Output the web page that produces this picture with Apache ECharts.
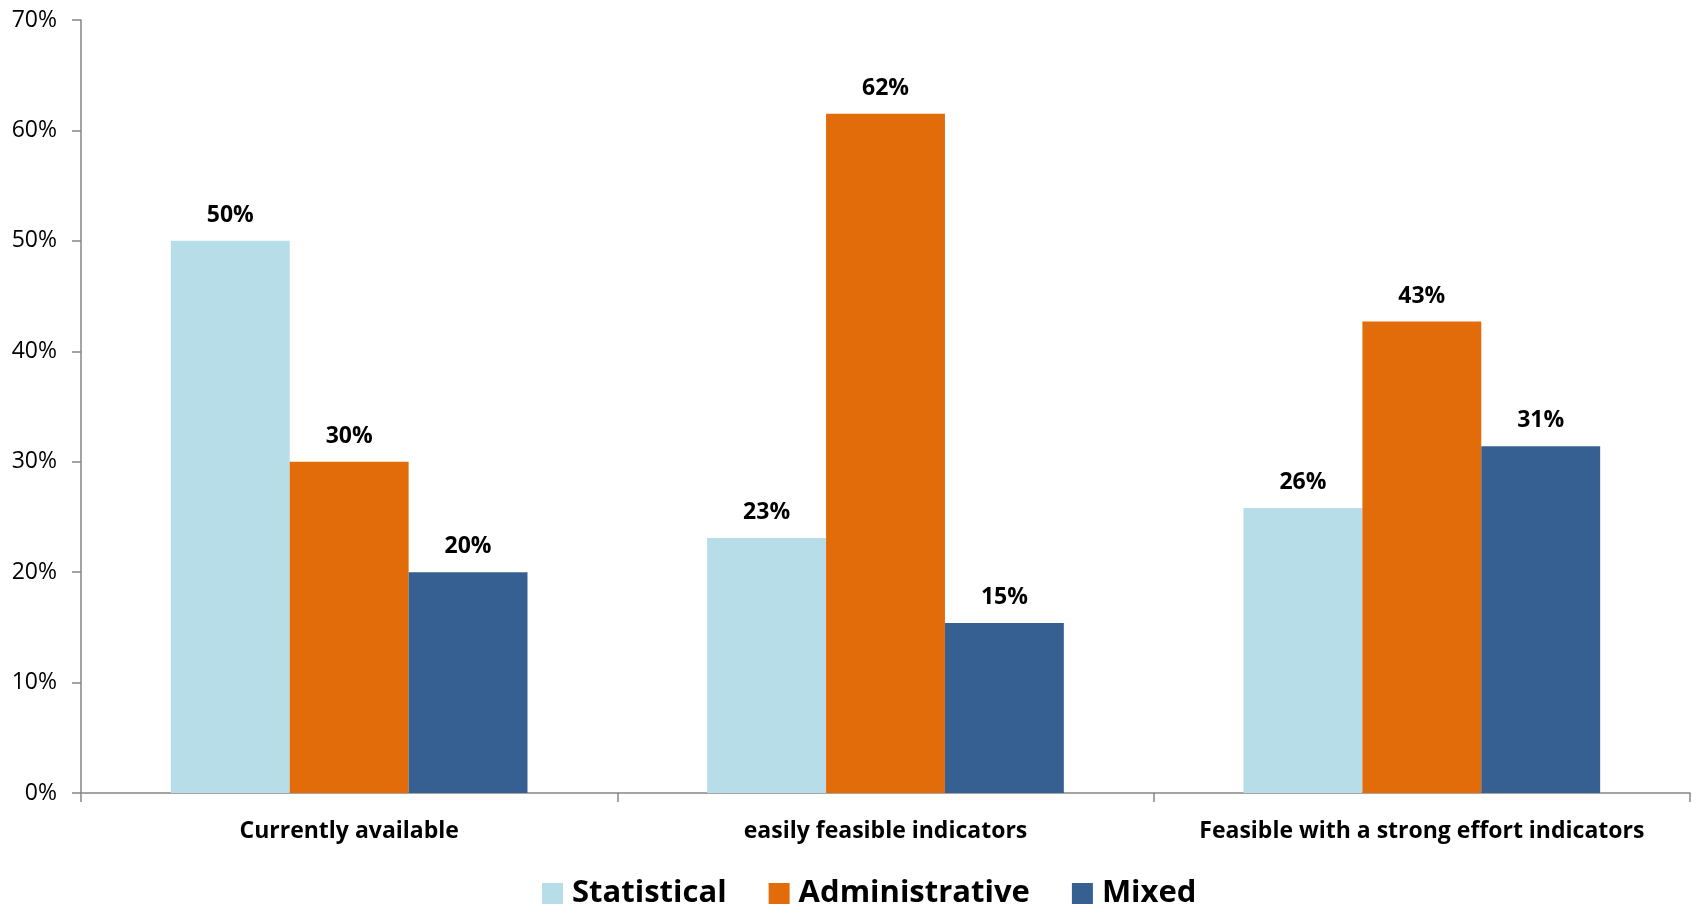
<!DOCTYPE html>
<html>
<head>
<meta charset="utf-8">
<script src="https://cdn.jsdelivr.net/npm/echarts@6/dist/echarts.min.js"></script>
<style>
html,body{margin:0;padding:0;background:#fff;}
#chart{width:1696px;height:910px;}
</style>
</head>
<body>
<div id="chart"></div>
<script>
const categories = ["Currently available", "easily feasible indicators", "Feasible with a strong effort indicators"];
const statistical = [50.0, 23.1, 25.8];
const administrative = [30.0, 61.5, 42.7];
const mixed = [20.0, 15.4, 31.4];
const yTicks = [0, 10, 20, 30, 40, 50, 60, 70];

const FONT = '"Open Sans", sans-serif';
const chart = echarts.init(document.getElementById('chart'));
const labelCfg = {
  show: true, position: 'top', distance: 14,
  formatter: p => Math.round(p.value) + '%',
  fontFamily: FONT, fontWeight: 'bold', fontSize: 23, color: '#000'
};
function mk(name, data, color) {
  return { name, type: 'bar', data, barGap: '0%', barCategoryGap: '33.5%',
    itemStyle: { color }, label: labelCfg };
}
chart.setOption({
  animation: false,
  grid: { left: 81, right: 6, top: 20, bottom: 117, containLabel: false },
  legend: {
    top: 873, left: 537, itemWidth: 21, itemHeight: 21, itemGap: 42,
    icon: 'rect',
    textStyle: { fontFamily: FONT, fontWeight: 'bold', fontSize: 31, color: '#000', padding: [0, 0, 0, 4] },
    data: ['Statistical', 'Administrative', 'Mixed']
  },
  xAxis: {
    type: 'category', data: categories,
    axisLine: { lineStyle: { color: '#868686', width: 1.5 } },
    axisTick: { show: true, length: 9, lineStyle: { color: '#868686', width: 1.5 } },
    axisLabel: { interval: 0, margin: 27, fontFamily: FONT, fontWeight: 'bold', fontSize: 23, color: '#000' }
  },
  yAxis: {
    type: 'value', min: yTicks[0], max: yTicks[yTicks.length - 1], interval: 10,
    splitLine: { show: false },
    axisLine: { show: true, lineStyle: { color: '#868686', width: 1.5 } },
    axisTick: { show: true, length: 9, lineStyle: { color: '#868686', width: 1.5 } },
    axisLabel: { margin: 24, formatter: v => v + '%', fontFamily: FONT, fontSize: 23, color: '#000' }
  },
  series: [
    mk('Statistical', statistical, '#B7DDE8'),
    mk('Administrative', administrative, '#E36C0A'),
    mk('Mixed', mixed, '#366092')
  ]
});
</script>
</body>
</html>
